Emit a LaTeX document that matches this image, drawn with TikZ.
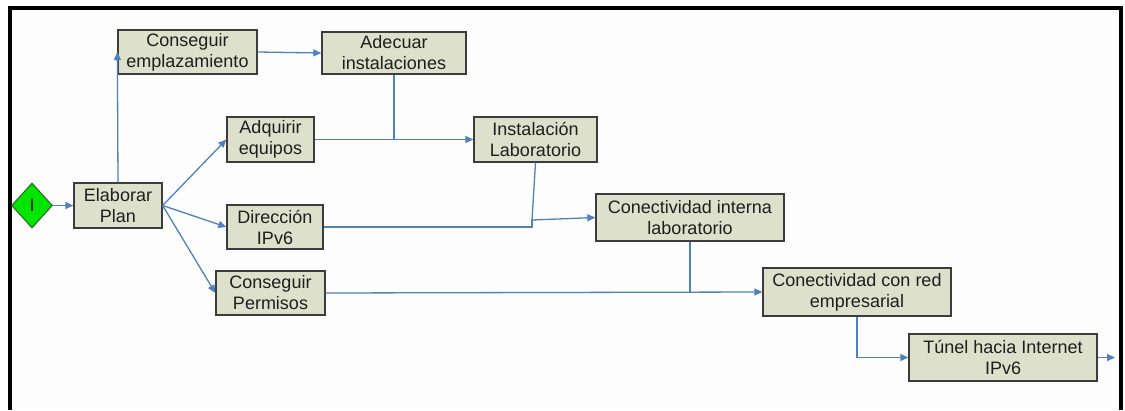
\documentclass[tikz,border=0pt]{standalone}
\usepackage{fontspec}
\setmainfont{Liberation Sans}
\usetikzlibrary{arrows.meta,shapes.geometric}
\definecolor{linkblue}{RGB}{79,129,189}
\definecolor{taskfill}{RGB}{221,224,203}
\definecolor{taskedge}{RGB}{60,60,60}
\definecolor{startgreen}{RGB}{0,228,0}
\definecolor{paper}{RGB}{253,253,253}
\definecolor{ink}{RGB}{30,30,30}
\tikzset{
  task/.style={draw=taskedge, line width=1.3pt, fill=taskfill, rectangle,
    inner sep=0pt, align=center, text=ink,
    font=\fontsize{18}{21}\selectfont},
  startnode/.style={draw=taskedge!80!green, line width=1pt, fill=startgreen,
    diamond, inner sep=0pt, minimum width=41pt, minimum height=45pt,
    text=ink, font=\fontsize{18}{21}\selectfont},
  link/.style={draw=linkblue, line width=1.3pt},
  flow/.style={link, -{Triangle[length=8pt,width=7pt]}},
}
\begin{document}
\begin{tikzpicture}[x=1pt,y=-1pt]
\useasboundingbox (0,0) rectangle (1125,410);
% page frame
\fill[white] (0,0) rectangle (1125,410);
\fill[paper] (12,10) rectangle (1119,410);
\fill[black] (8,6) rectangle (12,410);
\fill[black] (8,6) rectangle (1123,10);
\fill[black] (1119,6) rectangle (1123,410);

% tasks
\node[startnode] (start) at (32,205.5) {I};
\node[task, minimum width=88pt, minimum height=45pt] (plan) at (118,205.5) {Elaborar\\Plan};
\node[task, minimum width=139pt, minimum height=44pt] (emp) at (187.5,52) {Conseguir\\emplazamiento};
\node[task, minimum width=144pt, minimum height=42pt] (adec) at (394,53) {Adecuar\\instalaciones};
\node[task, minimum width=87pt, minimum height=45pt] (adq) at (270.5,139.5) {Adquirir\\equipos};
\node[task, minimum width=96pt, minimum height=44pt] (dir) at (275,227) {Dirección\\IPv6};
\node[task, minimum width=109pt, minimum height=44pt] (perm) at (270.5,293) {Conseguir\\Permisos};
\node[task, minimum width=123pt, minimum height=45pt] (inst) at (535.5,139.5) {Instalación\\Laboratorio};
\node[task, minimum width=188pt, minimum height=47pt] (cint) at (690,217.5) {Conectividad interna\\laboratorio};
\node[task, minimum width=188pt, minimum height=48pt] (cred) at (857,292) {Conectividad con red\\empresarial};
\node[task, minimum width=188pt, minimum height=47pt] (tun) at (1003,357.5) {Túnel hacia Internet\\IPv6};

% junction and exit points
\coordinate (j1) at (532,220);
\coordinate (out) at (1115,357.5);

% connectors
\draw[flow] (start.east) -- (plan.west);
\draw[flow] (plan.north) -- (emp.west);
\draw[flow] (emp.east) -- (adec.west);
\draw[flow] (plan.east) -- (adq.west);
\draw[flow] (plan.east) -- (dir.west);
\draw[flow] (plan.east) -- (perm.west);
\draw[link] (adec.south) -- (adec.south |- adq.east);
\draw[flow] (adq.east) -- (inst.west);
\draw[link] (inst.south) -- (j1);
\draw[link] (dir.east) -- (dir.east -| j1) -- (j1);
\draw[flow] (j1) -- (cint.west);
\draw[link] (cint.south) -- (cint.south |- perm.east);
\draw[flow] (perm.east) -- (cred.west);
\draw[flow] (cred.south) |- (tun.west);
\draw[flow] (tun.east) -- (out);
\end{tikzpicture}
\end{document}
